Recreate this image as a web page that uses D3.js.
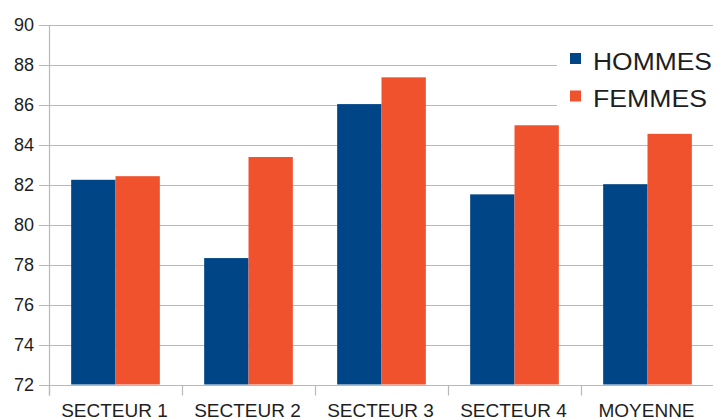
<!DOCTYPE html>
<html>
<head>
<meta charset="utf-8">
<script src="https://cdn.jsdelivr.net/npm/d3@7"></script>
<style>
	body { margin: 0; background: #fff; }
	svg { display: block; font-family: 'Liberation Sans', Arial, sans-serif; }
</style>
</head>
<body>
<div class="graphic__container"></div>
<script>
const categories = ['SECTEUR 1', 'SECTEUR 2', 'SECTEUR 3', 'SECTEUR 4', 'MOYENNE']
const series = ['HOMMES', 'FEMMES']
const hommes = [82.25, 78.33, 86.04, 81.52, 82.03]
const femmes = [82.43, 83.39, 87.38, 84.98, 84.55]
const yTicks = [72, 74, 76, 78, 80, 82, 84, 86, 88, 90]
const colors = ['#004586', '#f0522e']

const width = 713
const height = 419
const margin = { top: 25, right: -1, bottom: 34.5, left: 49 }

const gridColor = '#b8b8b8'
const textColor = '#1e1e1e'

const svg = d3.select('.graphic__container')
	.append('svg')
	.attr('width', width)
	.attr('height', height)

const scaleX = d3.scaleBand()
	.domain(categories)
	.range([margin.left, width - margin.right])
	.padding(0)

const scaleSeries = d3.scaleBand()
	.domain(series)
	.range([0, scaleX.bandwidth()])
	.paddingInner(0)
	.paddingOuter(0.5)

const scaleY = d3.scaleLinear()
	.domain([72, 90])
	.range([height - margin.bottom, margin.top])

const scaleColor = d3.scaleOrdinal().domain(series).range(colors)

const data = categories.map((c, i) => ({
	cat: c,
	values: [
		{ key: 'HOMMES', value: hommes[i] },
		{ key: 'FEMMES', value: femmes[i] }
	]
}))

// gridlines + y ticks
const grid = svg.append('g').attr('class', 'grid')
grid.selectAll('line')
	.data(yTicks)
	.enter().append('line')
		.attr('x1', margin.left - 10)
		.attr('x2', width)
		.attr('y1', d => Math.round(scaleY(d)) + 0.5)
		.attr('y2', d => Math.round(scaleY(d)) + 0.5)
		.attr('stroke', gridColor)
		.attr('stroke-width', 1.2)

grid.selectAll('text')
	.data(yTicks)
	.enter().append('text')
		.attr('x', 34)
		.attr('y', d => scaleY(d))
		.attr('dy', '0.35em')
		.attr('text-anchor', 'end')
		.attr('font-size', 18)
		.attr('fill', textColor)
		.text(d => d)

// bars
const group = svg.append('g').attr('class', 'bars')
	.selectAll('g')
	.data(data)
	.enter().append('g')
		.attr('transform', d => `translate(${scaleX(d.cat)}, 0)`)

group.selectAll('rect')
	.data(d => d.values)
	.enter().append('rect')
		.attr('x', d => scaleSeries(d.key))
		.attr('y', d => scaleY(d.value))
		.attr('width', scaleSeries.bandwidth())
		.attr('height', d => scaleY(72) - scaleY(d.value))
		.attr('fill', d => scaleColor(d.key))

// axes
const axis = svg.append('g').attr('class', 'g-axis')
const baseY = Math.round(scaleY(72)) + 0.5

axis.append('line')
	.attr('x1', margin.left + 0.5)
	.attr('x2', margin.left + 0.5)
	.attr('y1', margin.top)
	.attr('y2', baseY + 10)
	.attr('stroke', gridColor)
	.attr('stroke-width', 1.2)

axis.append('line')
	.attr('x1', margin.left - 10)
	.attr('x2', width)
	.attr('y1', baseY)
	.attr('y2', baseY)
	.attr('stroke', gridColor)
	.attr('stroke-width', 1.2)

const bounds = categories.map(c => scaleX(c)).concat([scaleX.range()[1]])
axis.selectAll('.tick-x')
	.data(bounds)
	.enter().append('line')
		.attr('class', 'tick-x')
		.attr('x1', d => Math.round(d) + 0.5)
		.attr('x2', d => Math.round(d) + 0.5)
		.attr('y1', baseY)
		.attr('y2', baseY + 10)
		.attr('stroke', gridColor)
		.attr('stroke-width', 1.2)

axis.selectAll('.cat')
	.data(categories)
	.enter().append('text')
		.attr('class', 'cat')
		.attr('x', d => scaleX(d) + scaleX.bandwidth() / 2 - 1)
		.attr('y', 417)
		.attr('text-anchor', 'middle')
		.attr('font-size', 19)
		.attr('fill', textColor)
		.text(d => d)

// legend
const legend = svg.append('g').attr('class', 'legend')
legend.append('rect')
	.attr('x', 557)
	.attr('y', 44)
	.attr('width', width - 557)
	.attr('height', 70)
	.attr('fill', '#fff')

const legendItem = legend.selectAll('.item')
	.data(series)
	.enter().append('g')
		.attr('class', 'item')
		.attr('transform', (d, i) => `translate(570, ${53 + i * 37.5})`)

legendItem.append('rect')
	.attr('width', 11)
	.attr('height', 11)
	.attr('fill', d => scaleColor(d))

legendItem.append('text')
	.attr('x', 23)
	.attr('y', 16.5)
	.attr('font-size', 23)
	.attr('fill', textColor)
	.attr('textLength', (d, i) => i === 0 ? 119 : 114)
	.attr('lengthAdjust', 'spacingAndGlyphs')
	.text(d => d)
</script>
</body>
</html>
